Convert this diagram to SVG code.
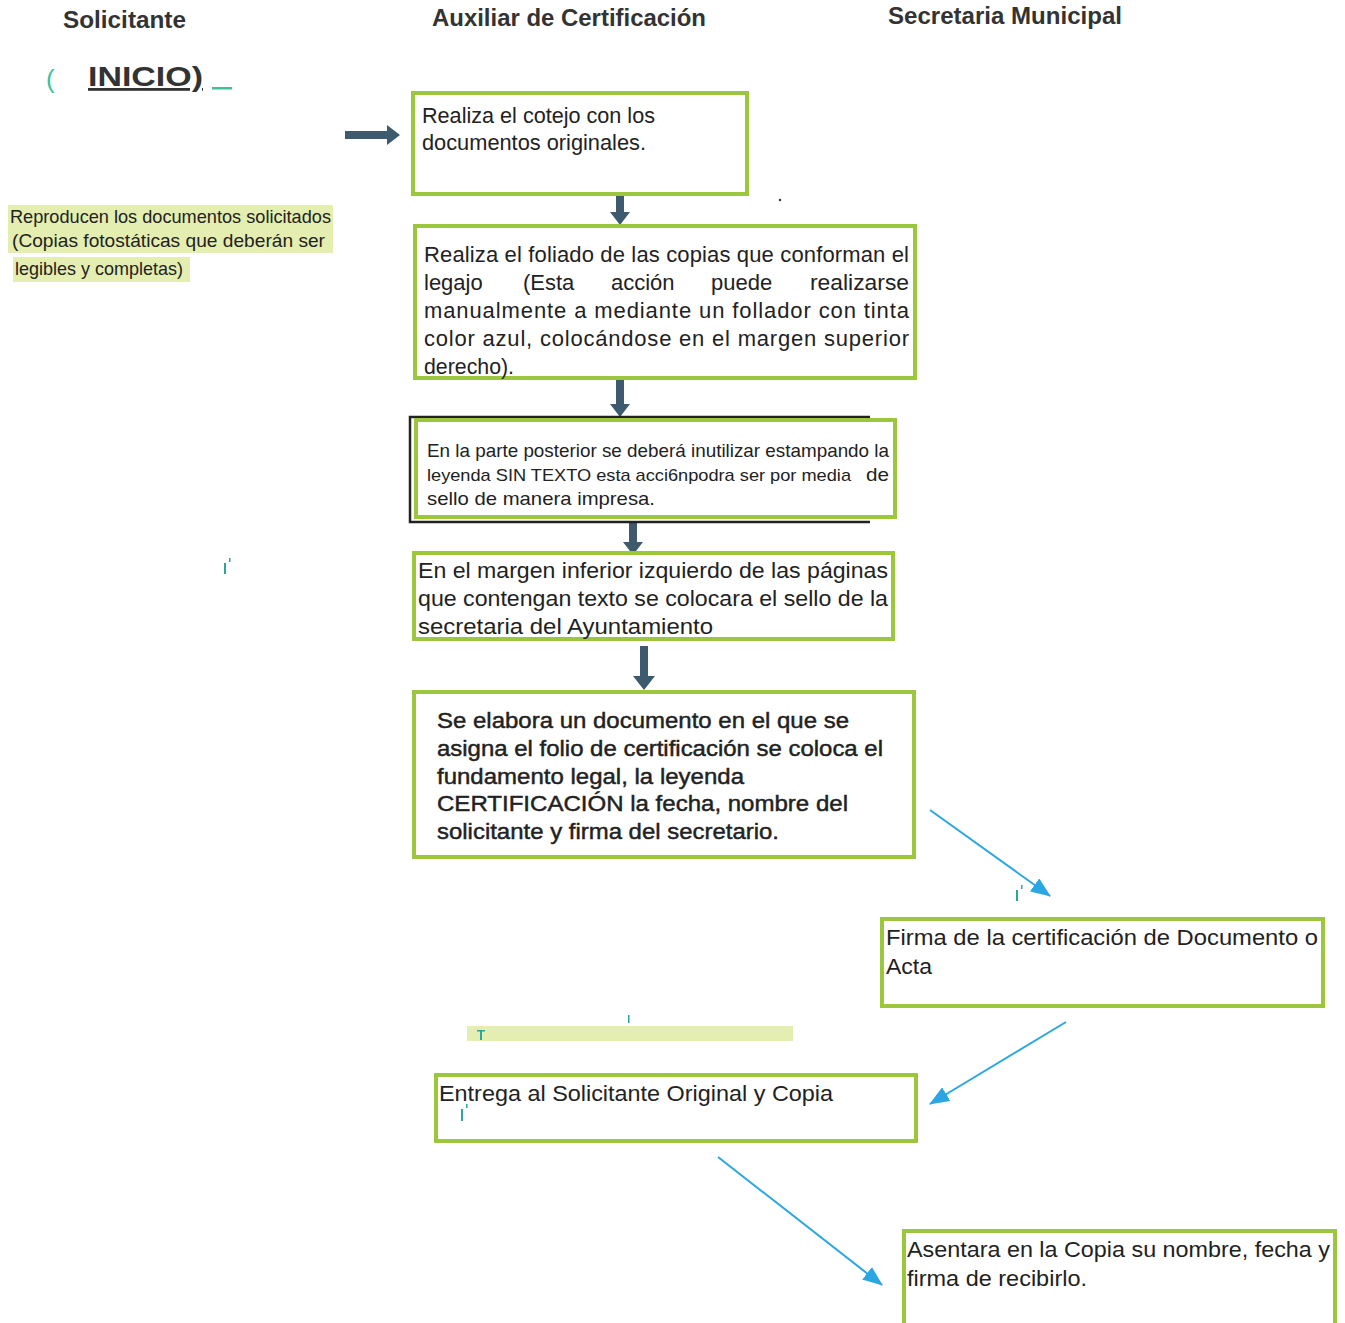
<svg xmlns="http://www.w3.org/2000/svg" width="1345" height="1323" viewBox="0 0 1345 1323">
<style>
.hdr{font-family:"Liberation Sans",Arial,sans-serif;font-weight:bold;font-size:23px;fill:#333}
.t{font-family:"Liberation Sans",Arial,sans-serif;font-size:22px;fill:#222}
.s{font-family:"Liberation Sans",Arial,sans-serif;font-size:19px;fill:#222}
.m{stroke:#222;stroke-width:0.45}
.box{fill:#fff;stroke:#9cc63c;stroke-width:4}
.dk{fill:#3d5a6e}
.bl{stroke:#2aa6e2;stroke-width:2;fill:none}
.hl{fill:#e4eeb0}
.teal{fill:#3fbf9a}
</style>
<defs>
<marker id="ab2" viewBox="0 0 20 16" refX="19" refY="8" markerWidth="20" markerHeight="16" markerUnits="userSpaceOnUse" orient="auto">
<path d="M0,0 L20,8 L0,16 z" fill="#2aa6e2"/>
</marker>
</defs>
<rect width="1345" height="1323" fill="#fff"/>

<g id="headers">
<text class="hdr" x="63" y="28" textLength="123" lengthAdjust="spacingAndGlyphs">Solicitante</text>
<text class="hdr" x="432" y="26" textLength="274" lengthAdjust="spacingAndGlyphs">Auxiliar de Certificación</text>
<text class="hdr" x="888" y="24" textLength="234" lengthAdjust="spacingAndGlyphs">Secretaria Municipal</text>
</g>

<g id="inicio">
<text x="46" y="88" font-family="Liberation Sans,Arial,sans-serif" font-size="26" fill="#3fbf9a">(</text>
<text x="88" y="86" font-family="Liberation Sans,Arial,sans-serif" font-size="28" font-weight="bold" fill="#333" text-decoration="underline" textLength="115" lengthAdjust="spacingAndGlyphs">INICIO)</text>
<rect class="teal" x="212" y="87" width="20" height="2.5"/>
</g>

<g id="solicitante-note">
<rect class="hl" x="8" y="205" width="325" height="25"/>
<rect class="hl" x="8" y="230" width="325" height="23"/>
<rect class="hl" x="13" y="257" width="177" height="25"/>
<text class="s" x="10" y="223" textLength="321" lengthAdjust="spacingAndGlyphs">Reproducen los documentos solicitados</text>
<text class="s" x="12" y="247" textLength="313" lengthAdjust="spacingAndGlyphs">(Copias  fotostáticas  que  deberán  ser</text>
<text class="s" x="15" y="275" textLength="168" lengthAdjust="spacingAndGlyphs">legibles y completas)</text>
</g>

<g id="connectors">
<polygon class="dk" points="345,131 387,131 387,125 400,135 387,145 387,139 345,139"/>
<polygon class="dk" points="616,195 624,195 624,212 630,212 620,225 610,212 616,212"/>
<polygon class="dk" points="616,380 624,380 624,404 630,404 620,417 610,404 616,404"/>
<polygon class="dk" points="629,522 637,522 637,542 643,542 633,555 623,542 629,542"/>
<polygon class="dk" points="640,646 648,646 648,676 655,676 644,690 633,676 640,676"/>
<line class="bl" x1="930" y1="810" x2="1050" y2="896" marker-end="url(#ab2)"/>
<line class="bl" x1="1066" y1="1022" x2="930" y2="1104" marker-end="url(#ab2)"/>
<line class="bl" x1="718" y1="1157" x2="882" y2="1285" marker-end="url(#ab2)"/>
</g>

<g id="n1">
<rect class="box" x="413" y="93" width="334" height="101"/>
<text class="t" x="422" y="123" textLength="233" lengthAdjust="spacingAndGlyphs">Realiza el cotejo con los</text>
<text class="t" x="422" y="150" textLength="224" lengthAdjust="spacingAndGlyphs">documentos originales.</text>
</g>

<g id="n2">
<rect class="box" x="415" y="226" width="500" height="152"/>
<text class="t" x="424" y="262" textLength="485" lengthAdjust="spacing">Realiza el foliado de las copias que conforman el</text>
<text class="t" x="424" y="290" fill="#444">legajo</text>
<text class="t" x="523" y="290">(Esta</text>
<text class="t" x="611" y="290">acción</text>
<text class="t" x="711" y="290">puede</text>
<text class="t" x="810" y="290" textLength="99" lengthAdjust="spacingAndGlyphs">realizarse</text>
<text class="t" x="424" y="318" textLength="485" lengthAdjust="spacing">manualmente a  mediante un follador con tinta</text>
<text class="t" x="424" y="346" textLength="485" lengthAdjust="spacing">color azul, colocándose  en el margen superior</text>
<text class="t" x="424" y="374" textLength="90" lengthAdjust="spacingAndGlyphs">derecho).</text>
</g>

<g id="n3">
<path d="M870,417 L410,417 L410,522 L870,522" fill="none" stroke="#222" stroke-width="2.5"/>
<rect class="box" x="416" y="420" width="479" height="97"/>
<text class="s" x="427" y="457" textLength="462" lengthAdjust="spacingAndGlyphs">En la parte posterior se deberá inutilizar estampando la</text>
<text class="s" x="427" y="481" style="font-size:17px" textLength="424" lengthAdjust="spacingAndGlyphs">leyenda SIN TEXTO esta acci6npodra ser por media</text>
<text class="s" x="866" y="481" textLength="23" lengthAdjust="spacingAndGlyphs">de</text>
<text class="s" x="427" y="505" textLength="228" lengthAdjust="spacingAndGlyphs">sello de manera impresa.</text>
</g>

<g id="n4">
<rect class="box" x="414" y="553" width="479" height="86"/>
<text class="t" x="418" y="578" textLength="470" lengthAdjust="spacingAndGlyphs">En el margen inferior izquierdo de las páginas</text>
<text class="t" x="418" y="606" textLength="470" lengthAdjust="spacingAndGlyphs">que  contengan texto se colocara el sello de la</text>
<text class="t" x="418" y="634" textLength="295" lengthAdjust="spacingAndGlyphs">secretaria  del Ayuntamiento</text>
</g>

<g id="n5">
<rect class="box" x="414" y="692" width="500" height="165"/>
<text class="t m" x="437" y="728" textLength="412" lengthAdjust="spacingAndGlyphs">Se elabora un documento en el que se</text>
<text class="t m" x="437" y="756" textLength="446" lengthAdjust="spacingAndGlyphs">asigna el folio de certificación se coloca el</text>
<text class="t m" x="437" y="784" textLength="307" lengthAdjust="spacingAndGlyphs">fundamento legal, la leyenda</text>
<text class="t m" x="437" y="811" textLength="411" lengthAdjust="spacingAndGlyphs">CERTIFICACIÓN la fecha, nombre del</text>
<text class="t m" x="437" y="839" textLength="342" lengthAdjust="spacingAndGlyphs">solicitante y firma del secretario.</text>
</g>

<g id="n6">
<rect class="box" x="882" y="919" width="441" height="87"/>
<text class="t" x="886" y="945" textLength="432" lengthAdjust="spacingAndGlyphs">Firma de la certificación de Documento o</text>
<text class="t" x="886" y="974" textLength="46" lengthAdjust="spacingAndGlyphs">Acta</text>
</g>

<g id="n7">
<rect class="box" x="436" y="1075" width="480" height="66"/>
<text class="t" x="439" y="1101" textLength="394" lengthAdjust="spacingAndGlyphs">Entrega al Solicitante Original y Copia</text>
</g>

<g id="n8">
<rect class="box" x="904" y="1231" width="431" height="100"/>
<text class="t" x="907" y="1257" textLength="423" lengthAdjust="spacingAndGlyphs">Asentara en la Copia su nombre, fecha y</text>
<text class="t" x="907" y="1286" textLength="180" lengthAdjust="spacingAndGlyphs">firma de recibirlo.</text>
</g>

<g id="marks">
<rect class="hl" x="467" y="1026" width="326" height="15"/>
<rect x="224" y="563" width="2" height="11" fill="#2aa6a0"/>
<rect x="229" y="558" width="1.5" height="4" fill="#2aa6a0"/>
<rect x="1016" y="890" width="2" height="11" fill="#2aa6a0"/>
<rect x="1021" y="885" width="1.5" height="4" fill="#2aa6a0"/>
<rect x="461" y="1109" width="2" height="12" fill="#2aa6a0"/>
<rect x="466" y="1104" width="1.5" height="4" fill="#2aa6a0"/>
<rect x="480" y="1031" width="2" height="9" fill="#2aa6a0"/>
<rect x="477" y="1030" width="8" height="1.5" fill="#2aa6a0"/>
<rect x="628" y="1015" width="1.5" height="8" fill="#2aa6a0"/>
<circle cx="780" cy="200" r="1.2" fill="#333"/>
</g>
</svg>
